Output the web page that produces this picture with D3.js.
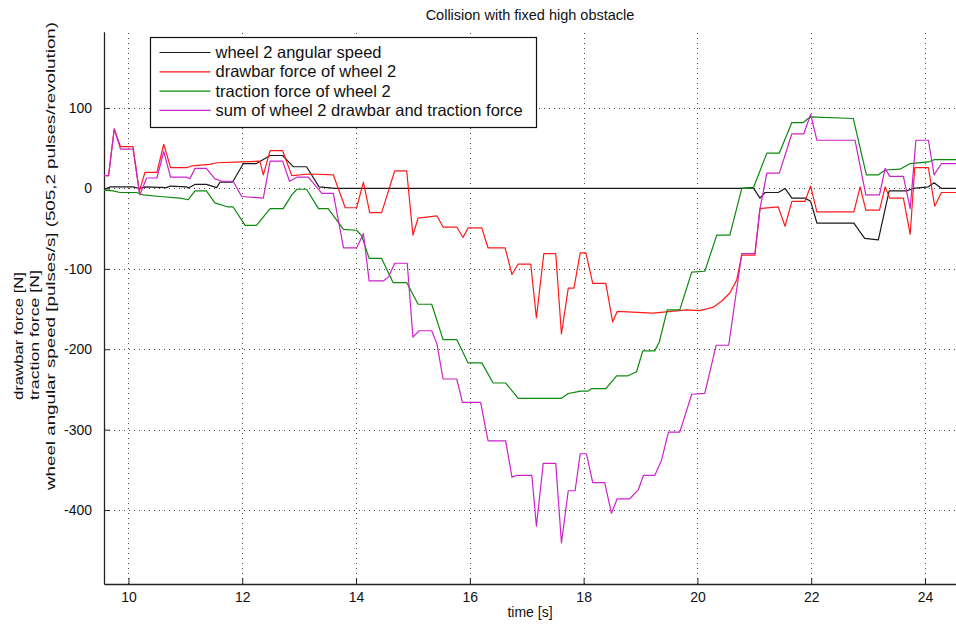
<!DOCTYPE html>
<html>
<head>
<meta charset="utf-8">
<script src="https://cdn.jsdelivr.net/npm/d3@7/dist/d3.min.js"></script>
<style>
  html, body { margin: 0; padding: 0; background: #fff; }
  svg { display: block; }
  text { font-family: "Liberation Sans", Arial, sans-serif; fill: #111; }
</style>
</head>
<body>
<svg id="chart" width="956" height="628"></svg>
<script>
// ---- data: time [s] and value pairs for each recorded signal ----
const speedTime = [9.57, 9.68, 10.08, 10.19, 10.29, 10.67, 10.73, 11.02, 11.05, 11.17, 11.37, 11.55, 11.61, 11.83, 12.02, 12.25, 12.49, 12.71, 12.87, 12.90, 13.13, 13.35, 13.63, 20.75, 20.98, 21.10, 21.19, 21.42, 21.54, 21.66, 21.89, 21.99, 22.10, 22.75, 22.94, 23.18, 23.37, 23.68, 23.79, 24.06, 24.16, 24.29, 24.57];
const speedValues = [-1, 2, 2, 0, 2, 1, 3, 2, 0.5, 5, 5, 1, 8, 8, 31, 31, 41, 41, 29, 27, 27, 2, 0, 0, 1, -12, -5, -5, 0, -12, -12, -16, -43, -43, -62, -64, -3, -3, 0, 2, 7, 0, 0];

const drawbarTime = [9.57, 9.65, 9.75, 9.86, 10.08, 10.19, 10.29, 10.50, 10.62, 10.74, 11.02, 11.11, 11.43, 11.55, 11.99, 12.31, 12.37, 12.49, 12.71, 12.87, 13.19, 13.60, 13.81, 14.01, 14.13, 14.24, 14.45, 14.68, 14.89, 15.00, 15.09, 15.42, 15.53, 15.77, 15.88, 15.97, 16.21, 16.32, 16.62, 16.74, 16.85, 17.07, 17.17, 17.30, 17.51, 17.61, 17.73, 17.83, 17.94, 18.04, 18.16, 18.39, 18.51, 18.59, 19.22, 19.81, 20.04, 20.27, 20.43, 20.57, 20.69, 20.78, 21.01, 21.10, 21.42, 21.54, 21.66, 21.89, 21.99, 22.10, 22.75, 22.86, 22.96, 23.20, 23.30, 23.38, 23.62, 23.74, 23.82, 24.06, 24.17, 24.29, 24.57];
const drawbarValues = [16, 16, 74, 52, 52, -4, 20, 20, 55, 26, 26, 28, 30, 32, 33, 34, 17, 47, 47, 16, 18, 17, -24, -24, 8, -30, -30, 22, 22, -58, -37, -34, -48, -48, -61, -49, -49, -74, -74, -107, -94, -94, -161, -81, -81, -181, -124, -124, -80, -80, -118, -118, -166, -153, -155, -151, -152, -148, -140, -130, -114, -83, -83, -25, -23, -47, -16, -16, 3, -29, -29, 2, -27, -27, 2, -12, -12, -57, 26, 26, -22, -5, -5];

const tractionTime = [9.57, 9.73, 9.85, 10.14, 10.26, 10.55, 10.91, 11.05, 11.17, 11.37, 11.52, 11.75, 11.84, 12.05, 12.25, 12.49, 12.72, 12.87, 12.96, 13.13, 13.34, 13.51, 13.78, 14.01, 14.10, 14.23, 14.45, 14.65, 14.89, 15.09, 15.33, 15.53, 15.77, 15.97, 16.21, 16.41, 16.63, 16.85, 17.61, 17.73, 17.88, 17.94, 18.08, 18.14, 18.39, 18.58, 18.78, 18.93, 19.04, 19.25, 19.33, 19.47, 19.69, 19.90, 20.13, 20.34, 20.57, 20.78, 20.98, 21.22, 21.44, 21.66, 21.86, 21.98, 22.74, 22.97, 23.18, 23.30, 23.56, 23.74, 24.06, 24.17, 24.57];
const tractionValues = [-2, -3, -5, -5, -8, -10, -12, -14, -3, -3, -18, -23, -23, -46, -46, -25, -25, -8, -1, -1, -25, -25, -51, -52, -59, -87, -87, -117, -117, -144, -144, -188, -188, -217, -217, -242, -242, -261, -261, -255, -253, -252, -252, -249, -249, -233, -233, -228, -202, -202, -191, -151, -151, -104, -103, -58, -58, 0, 0, 44, 44, 82, 82, 89, 87, 17, 17, 23, 24, 31, 33, 36, 36];

const sumTime = [9.57, 9.65, 9.75, 9.86, 10.08, 10.20, 10.32, 10.50, 10.62, 10.74, 11.02, 11.08, 11.17, 11.37, 11.52, 11.64, 11.84, 11.99, 12.37, 12.49, 12.71, 12.83, 12.96, 13.16, 13.40, 13.60, 13.78, 14.01, 14.13, 14.23, 14.48, 14.57, 14.68, 14.90, 15.00, 15.11, 15.33, 15.42, 15.53, 15.77, 15.87, 16.19, 16.32, 16.63, 16.74, 16.82, 17.09, 17.17, 17.29, 17.51, 17.61, 17.73, 17.85, 17.94, 18.05, 18.16, 18.37, 18.49, 18.59, 18.81, 18.96, 19.05, 19.25, 19.37, 19.49, 19.69, 19.90, 20.13, 20.33, 20.55, 20.78, 21.01, 21.10, 21.22, 21.44, 21.66, 21.87, 21.99, 22.10, 22.77, 22.96, 23.20, 23.30, 23.38, 23.62, 23.74, 23.84, 24.06, 24.16, 24.29, 24.57];
const sumValues = [16, 16, 74, 49, 49, -8, 13, 13, 46, 14, 14, 12, 25, 25, 12, 9, 9, -10, -12, 34, 34, 9, 14, 14, -6, -6, -74, -74, -56, -115, -115, -110, -93, -93, -185, -177, -177, -193, -237, -237, -266, -266, -314, -314, -359, -357, -357, -420, -342, -342, -441, -376, -376, -330, -330, -366, -366, -404, -386, -386, -375, -357, -357, -338, -303, -303, -256, -255, -195, -195, -81, -81, -25, 19, 19, 68, 68, 92, 60, 60, -8, -8, 25, 15, 15, -25, 60, 60, 17, 31, 31];

const xTicks = [10, 12, 14, 16, 18, 20, 22, 24];
const yTicks = [-400, -300, -200, -100, 0, 100];
const seriesNames = [
  "wheel 2 angular speed",
  "drawbar force of wheel 2",
  "traction force of wheel 2",
  "sum of wheel 2 drawbar and traction force"
];
const seriesColors = ["#1a1a1a", "#ff1a1a", "#0a8a0a", "#cc22cc"];
const titleText = "Collision with fixed high obstacle";
const xLabelText = "time [s]";
const yLabelLines = [
  "drawbar force [N]",
  "traction force [N]",
  "wheel angular speed [pulses/s] (505,2 pulses/revolution)"
];

// ---- layout ----
const margin = { left: 104, right: 0, top: 31.7, bottom: 44 };
const W = 956, H = 628;
const svg = d3.select("#chart");

const x = d3.scaleLinear().domain([9.57, 24.545]).range([margin.left, W - margin.right]);
const y = d3.scaleLinear().domain([-492, 195]).range([H - margin.bottom, margin.top]);

const plotLeft = margin.left, plotRight = W - margin.right;
const plotTop = margin.top, plotBottom = H - margin.bottom;

svg.append("defs").append("clipPath").attr("id", "plotClip")
  .append("rect").attr("x", plotLeft).attr("y", plotTop)
  .attr("width", plotRight - plotLeft).attr("height", plotBottom - plotTop);

// dotted grid
const grid = svg.append("g").attr("stroke", "#444").attr("stroke-width", 1)
  .attr("stroke-dasharray", "1,4").attr("shape-rendering", "crispEdges");
grid.selectAll(".gx").data(xTicks).join("line")
  .attr("x1", d => Math.round(x(d)) + 0.5).attr("x2", d => Math.round(x(d)) + 0.5)
  .attr("y1", plotBottom).attr("y2", plotTop);
grid.selectAll(".gy").data(yTicks).join("line")
  .attr("x1", plotLeft).attr("x2", plotRight)
  .attr("y1", d => Math.round(y(d)) + 0.5).attr("y2", d => Math.round(y(d)) + 0.5);

// axes with inward ticks, plain hyphen for negatives
const fmt = d => String(d);
const xAxis = d3.axisBottom(x).tickValues(xTicks).tickFormat(fmt).tickSizeInner(-6).tickSizeOuter(0).tickPadding(8);
const yAxis = d3.axisLeft(y).tickValues(yTicks).tickFormat(fmt).tickSizeInner(-6).tickSizeOuter(0).tickPadding(12);

const gx = svg.append("g").attr("transform", `translate(0,${plotBottom})`).call(xAxis);
const gy = svg.append("g").attr("transform", `translate(${plotLeft},0)`).call(yAxis);
[gx, gy].forEach(g => {
  g.select(".domain").attr("stroke", "#222").attr("stroke-width", 1.3);
  g.selectAll(".tick line").attr("stroke", "#222");
  g.selectAll(".tick text").attr("font-size", 14)
    .attr("font-family", "'Liberation Sans', Arial, sans-serif").attr("fill", "#111");
});

// series lines
const series = [
  { t: speedTime, v: speedValues },
  { t: drawbarTime, v: drawbarValues },
  { t: tractionTime, v: tractionValues },
  { t: sumTime, v: sumValues }
];
const line = d3.line().x(d => x(d[0])).y(d => y(d[1]));
const lines = svg.append("g").attr("clip-path", "url(#plotClip)");
series.forEach((s, i) => {
  lines.append("path")
    .datum(s.t.map((t, k) => [t, s.v[k]]))
    .attr("fill", "none")
    .attr("stroke", seriesColors[i])
    .attr("stroke-width", 1.2)
    .attr("stroke-linejoin", "round")
    .attr("d", line);
});

// title and axis labels
svg.append("text").attr("x", (plotLeft + plotRight) / 2).attr("y", 20)
  .attr("text-anchor", "middle").attr("font-size", 14.5).text(titleText);
svg.append("text").attr("x", (plotLeft + plotRight) / 2).attr("y", 617)
  .attr("text-anchor", "middle").attr("font-size", 14).text(xLabelText);

// three-line y label reading upward; [start, end] along the left edge
const yLabelSpans = [[400, 272], [400, 270], [490, 22]];
yLabelLines.forEach((ln, i) => {
  const [y0, y1] = yLabelSpans[i];
  svg.append("text")
    .attr("transform", `translate(${23 + i * 16},${y0}) rotate(-90)`)
    .attr("x", 0).attr("y", 0)
    .attr("font-size", 13.5)
    .attr("textLength", y0 - y1)
    .attr("lengthAdjust", "spacingAndGlyphs")
    .text(ln);
});

// legend
const legend = svg.append("g").attr("transform", "translate(150.5,37.5)");
legend.append("rect").attr("width", 386).attr("height", 90)
  .attr("fill", "#fff").attr("stroke", "#111").attr("stroke-width", 1.2);
seriesNames.forEach((name, i) => {
  const row = legend.append("g").attr("transform", `translate(0,${15 + i * 19.3})`);
  row.append("line").attr("x1", 9).attr("x2", 60).attr("y1", 0).attr("y2", 0)
    .attr("stroke", seriesColors[i]).attr("stroke-width", 1.2);
  row.append("text").attr("x", 65).attr("y", 5.5).attr("font-size", 16.5).text(name);
});
</script>
</body>
</html>
